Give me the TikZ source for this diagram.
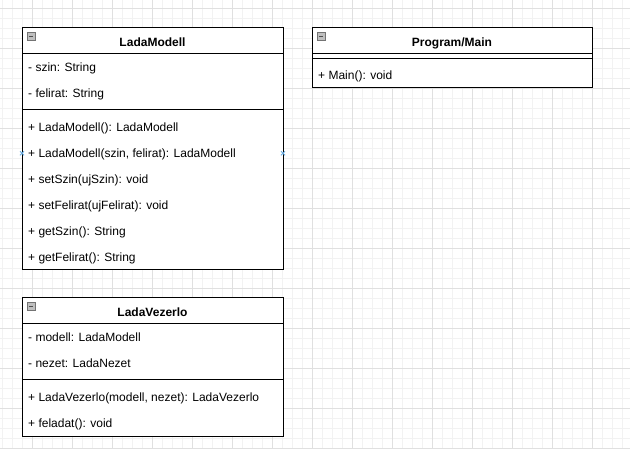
\documentclass[tikz,border=0pt]{standalone}
\usepackage{fontspec}
\setmainfont{Liberation Sans}
\usetikzlibrary{calc}
\begin{document}
\begin{tikzpicture}[x=1pt,y=-1pt,
  classbox/.style={draw=black, line width=1pt, anchor=north west, inner sep=0pt, outer sep=0pt},
  member/.style={anchor=base west, inner sep=0pt, font=\fontsize{12}{14}\selectfont},
  ctitle/.style={anchor=base, inner sep=0pt, font=\fontsize{12}{14}\selectfont\bfseries},
  sepline/.style={draw=black, line width=1pt},
  gridminor/.style={draw=black!5, line width=0.5pt},
  gridmajor/.style={draw=black!12, line width=0.5pt},
  icon/.style={draw=black!55, fill=black!25, line width=0.6pt, minimum size=8.5pt, inner sep=0pt, anchor=center},
  marker/.style={draw=cyan!70!blue!60, line width=0.8pt}
]
\useasboundingbox (0,0) rectangle (630,449);
\fill[white] (0,0) rectangle (630,449);
% grid
\foreach \x in {2,12,...,622} \draw[gridminor] (\x,0) -- (\x,449);
\foreach \y in {8,18,...,448} \draw[gridminor] (0,\y) -- (630,\y);
\foreach \x in {32,72,...,622} \draw[gridmajor] (\x,0) -- (\x,449);
\foreach \y in {8,48,...,448} \draw[gridmajor] (0,\y) -- (630,\y);

% ---------- LadaModell ----------
\node[classbox, fill=white, minimum width=261pt, minimum height=242pt] (lm) at (22,28) {};
\draw[sepline] (22,54) -- (283,54);
\draw[sepline] (22,110) -- (283,110);
\node[icon] (lmicon) at (31.5,36.5) {};
\draw[black!70, line width=0.8pt] (lmicon.west) ++(2,0) -- ++(4.5,0);
\node[ctitle] (lmt) at (152.5,46.3) {LadaModell};
\node[member] (lma1) at (28,72) {- szin: String};
\node[member] (lma2) at (28,97.6) {- felirat: String};
\node[member] (lmm1) at (28,131.8) {+ LadaModell(): LadaModell};
\node[member] (lmm2) at (28,157.8) {+ LadaModell(szin, felirat): LadaModell};
\node[member] (lmm3) at (28,183.8) {+ setSzin(ujSzin): void};
\node[member] (lmm4) at (28,209.8) {+ setFelirat(ujFelirat): void};
\node[member] (lmm5) at (28,235.8) {+ getSzin(): String};
\node[member] (lmm6) at (28,261.8) {+ getFelirat(): String};
\coordinate (mkA) at (22,153.3);
\coordinate (mkB) at (283,153.3);
\draw[marker] ($(mkA)+(-2,-2)$) -- ($(mkA)+(2,2)$) ($(mkA)+(-2,2)$) -- ($(mkA)+(2,-2)$);
\draw[marker] ($(mkB)+(-2,-2)$) -- ($(mkB)+(2,2)$) ($(mkB)+(-2,2)$) -- ($(mkB)+(2,-2)$);

% ---------- Program/Main ----------
\node[classbox, fill=white, minimum width=280pt, minimum height=60pt] (pm) at (312,28) {};
\draw[sepline] (312,54) -- (592,54);
\draw[sepline] (312,58.3) -- (592,58.3);
\node[icon] (pmicon) at (321.5,36.5) {};
\draw[black!70, line width=0.8pt] (pmicon.west) ++(2,0) -- ++(4.5,0);
\node[ctitle] (pmt) at (452,46.3) {Program/Main};
\node[member] (pmm1) at (318,79.3) {+ Main(): void};

% ---------- LadaVezerlo ----------
\node[classbox, fill=white, minimum width=261pt, minimum height=138pt] (lv) at (22,298) {};
\draw[sepline] (22,324) -- (283,324);
\draw[sepline] (22,380) -- (283,380);
\node[icon] (lvicon) at (31.5,306.5) {};
\draw[black!70, line width=0.8pt] (lvicon.west) ++(2,0) -- ++(4.5,0);
\node[ctitle] (lvt) at (152.5,316.3) {LadaVezerlo};
\node[member] (lva1) at (28,342) {- modell: LadaModell};
\node[member] (lva2) at (28,367.6) {- nezet: LadaNezet};
\node[member] (lvm1) at (28,402) {+ LadaVezerlo(modell, nezet): LadaVezerlo};
\node[member] (lvm2) at (28,428) {+ feladat(): void};
\end{tikzpicture}
\end{document}
